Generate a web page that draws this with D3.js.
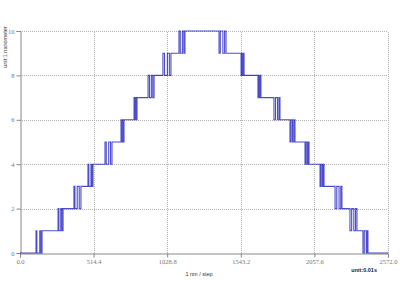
<!DOCTYPE html>
<html>
<head>
<meta charset="utf-8">
<script src="https://cdn.jsdelivr.net/npm/d3@7"></script>
<style>
  body { margin: 0; background: #fff; }
  svg { display: block; }
</style>
</head>
<body>
<div id="chart"></div>
<script>
// time (unit 0.01s) and position (nanometer)
let times = [
  0,
  112, 118, 138, 146, 154,
  266, 272, 285, 293, 301,
  377, 384, 400, 414, 426,
  475, 481, 496, 503, 510,
  594, 603, 620, 633, 643,
  706, 712, 720, 724, 727,
  797, 803, 810, 814, 818,
  895, 905, 918, 928, 937,
  999, 1010, 1030, 1044, 1055,
  1111, 1120, 1135, 1145, 1153,
  1391, 1400, 1418, 1430, 1440,
  1545, 1551, 1557, 1561, 1566,
  1663, 1670, 1676, 1680, 1684,
  1775, 1786, 1800, 1810, 1817,
  1887, 1895, 1905, 1914, 1922,
  1992, 1999, 2008, 2014, 2020,
  2097, 2104, 2113, 2119, 2125,
  2202, 2214, 2230, 2242, 2250,
  2306, 2318, 2333, 2345, 2355,
  2397, 2406, 2420, 2426, 2432,
  2572
];
let positions = [
  0,
  1, 0, 1, 0, 1,
  2, 1, 2, 1, 2,
  3, 2, 3, 2, 3,
  4, 3, 4, 3, 4,
  5, 4, 5, 4, 5,
  6, 5, 6, 5, 6,
  7, 6, 7, 6, 7,
  8, 7, 8, 7, 8,
  9, 8, 9, 8, 9,
  10, 9, 10, 9, 10,
  9, 10, 9, 10, 9,
  8, 9, 8, 9, 8,
  7, 8, 7, 8, 7,
  6, 7, 6, 7, 6,
  5, 6, 5, 6, 5,
  4, 5, 4, 5, 4,
  3, 4, 3, 4, 3,
  2, 3, 2, 3, 2,
  1, 2, 1, 2, 1,
  0, 1, 0, 1, 0,
  0
];
let xTicks = [0, 514.4, 1028.8, 1543.2, 2057.6, 2572.0];
let yTicks = [0, 2, 4, 6, 8, 10];

let w = 400, h = 300;
let margin = {left: 20, right: 12, top: 31, bottom: 47};

let svg = d3.select('#chart').append('svg')
  .attr('width', w)
  .attr('height', h);

let xScale = d3.scaleLinear()
  .domain([0, 2572])
  .range([margin.left, w - margin.right]);
let yScale = d3.scaleLinear()
  .domain([0, 10])
  .range([h - margin.bottom, margin.top]);

// grid
svg.append('g').selectAll('line')
  .data(xTicks.slice(1))
  .enter().append('line')
  .attr('x1', d => Math.round(xScale(d)) + 0.5)
  .attr('x2', d => Math.round(xScale(d)) + 0.5)
  .attr('y1', yScale(0))
  .attr('y2', yScale(10))
  .attr('stroke', '#b4b4b4')
  .attr('stroke-dasharray', '1,1');
svg.append('g').selectAll('line')
  .data(yTicks.slice(1))
  .enter().append('line')
  .attr('x1', xScale(0))
  .attr('x2', xScale(2572))
  .attr('y1', d => Math.round(yScale(d)) + 0.5)
  .attr('y2', d => Math.round(yScale(d)) + 0.5)
  .attr('stroke', '#b4b4b4')
  .attr('stroke-dasharray', '1,1');

// axes
let xAxis = d3.axisBottom(xScale)
  .tickValues(xTicks)
  .tickFormat(d3.format('.1f'))
  .tickSize(4)
  .tickPadding(2);
let yAxis = d3.axisLeft(yScale)
  .tickValues(yTicks)
  .tickFormat(d3.format('d'))
  .tickSize(4)
  .tickPadding(2);

let gx = svg.append('g')
  .attr('transform', 'translate(0,' + (Math.round(yScale(0)) + 0.5) + ')')
  .call(xAxis);
let gy = svg.append('g')
  .attr('transform', 'translate(' + (Math.round(xScale(0)) + 0.5) + ',0)')
  .call(yAxis);

[gx, gy].forEach(function(g) {
  g.select('.domain').attr('stroke', '#888');
  g.selectAll('.tick line').attr('stroke', '#888');
  g.selectAll('.tick text')
    .attr('font-family', 'Liberation Serif, serif')
    .attr('font-size', '6.5px')
    .attr('fill', '#777');
});

// data line
let line = d3.line()
  .x(d => xScale(d[0]))
  .y(d => yScale(d[1]))
  .curve(d3.curveStepAfter);

svg.append('path')
  .datum(d3.zip(times, positions))
  .attr('d', line)
  .attr('fill', 'none')
  .attr('stroke', '#0000b8')
  .attr('stroke-opacity', 0.7)
  .attr('stroke-width', 1.1);

// labels
svg.append('text')
  .text('unit:1 nanometer')
  .attr('transform', 'translate(7,' + 47 + ') rotate(-90)')
  .attr('text-anchor', 'middle')
  .attr('font-family', 'Liberation Sans, Arial, sans-serif')
  .attr('font-size', '5.5px')
  .attr('fill', '#333');

svg.append('text')
  .text('1 nm / step')
  .attr('x', 199)
  .attr('y', 276)
  .attr('text-anchor', 'middle')
  .attr('font-family', 'Liberation Sans, Arial, sans-serif')
  .attr('font-size', '5.5px')
  .attr('fill', '#333');

svg.append('text')
  .text('unit:0.01s')
  .attr('x', 377)
  .attr('y', 272)
  .attr('text-anchor', 'end')
  .attr('font-family', 'Liberation Sans, Arial, sans-serif')
  .attr('font-weight', 'bold')
  .attr('font-size', '5.5px')
  .attr('fill', '#222');
</script>
</body>
</html>
